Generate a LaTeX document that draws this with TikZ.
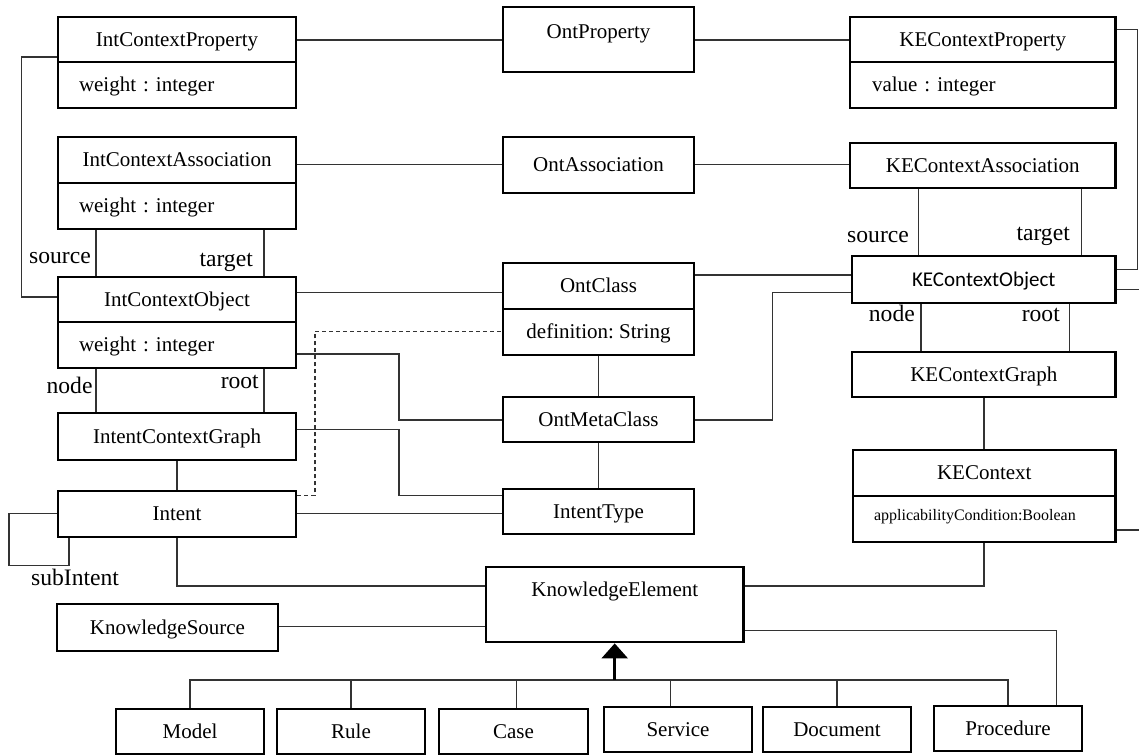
\documentclass[tikz,border=0pt]{standalone}
\usepackage{fontspec}
\setmainfont{Liberation Serif}
\newfontfamily\kesans{Carlito}
\usetikzlibrary{arrows.meta}
\frenchspacing
\begin{document}
\begin{tikzpicture}[x=1pt,y=-1pt,
  box/.style={draw=black, line width=2.8pt, inner sep=0pt,
    font=\fontsize{21}{25}\selectfont, text height=13.9pt, text depth=0pt},
  attr/.style={box, align=left, inner xsep=21pt, text width=#1},
  txt/.style={inner sep=0pt, font=\fontsize{21}{25}\selectfont,
    text height=13.9pt, text depth=0pt},
  conn/.style={draw=black!80, line width=1.3pt},
  role/.style={inner sep=0pt, font=\fontsize{23.6}{28}\selectfont, anchor=base east},
  gen/.style={draw=black, line width=2.6pt, -{Triangle[width=26pt,length=15pt]}}
]
\useasboundingbox (0,0) rectangle (1139,755);

% ---------- left column: intent side ----------
\node[box, minimum width=238pt, minimum height=45pt] (icp) at (177,39.5) {IntContextProperty};
\node[attr=196pt, minimum height=46pt] (icpa) at (177,85) {weight : integer};
\node[box, minimum width=238pt, minimum height=46pt] (ica) at (177,160) {IntContextAssociation};
\node[attr=196pt, minimum height=46pt] (icaa) at (177,206) {weight : integer};
\node[box, minimum width=238pt, minimum height=45pt] (ico) at (177,299.5) {IntContextObject};
\node[attr=196pt, minimum height=46pt] (icoa) at (177,345) {weight : integer};
\node[box, minimum width=238pt, minimum height=47pt] (icg) at (177,436.5) {IntentContextGraph};
\node[box, minimum width=238pt, minimum height=46pt] (intent) at (177,514) {Intent};
\node[box, minimum width=221pt, minimum height=47pt] (ks) at (167.5,627.5) {KnowledgeSource};

% ---------- middle column: ontology ----------
\node[box, minimum width=191pt, minimum height=65pt] (op) at (598.5,39.5) {};
\node[txt] (opt) at (598.5,32) {OntProperty};
\node[box, minimum width=191pt, minimum height=56pt] (oa) at (598.5,165) {OntAssociation};
\node[box, minimum width=191pt, minimum height=46pt] (oc) at (598.5,286) {OntClass};
\node[box, minimum width=191pt, minimum height=46pt] (oca) at (598.5,332) {definition: String};
\node[box, minimum width=191pt, minimum height=45pt] (omc) at (598.5,419.5) {OntMetaClass};
\node[box, minimum width=191pt, minimum height=45pt] (it) at (598.5,511.5) {IntentType};
\node[box, minimum width=257.5pt, minimum height=75pt] (ke) at (614.75,604.5) {};
\node[txt] (ket) at (614.75,590) {KnowledgeElement};

% ---------- right column: knowledge element context ----------
\node[box, minimum width=265.5pt, minimum height=45pt] (kcp) at (982.75,39.5) {KEContextProperty};
\node[attr=221.5pt, minimum height=46pt, inner xsep=22pt] (kcpa) at (982.75,85) {value : integer};
\node[box, minimum width=265.5pt, minimum height=45pt] (kca) at (982.75,165.5) {KEContextAssociation};
\node[box, minimum width=263.5pt, minimum height=47pt, font=\fontsize{21}{25}\kesans, text height=13.5pt] (kco) at (983.75,279.5) {KEContextObject};
\node[box, minimum width=263.5pt, minimum height=45pt] (kcg) at (983.75,374.5) {KEContextGraph};
\node[box, minimum width=262.5pt, minimum height=46pt] (kc) at (984.25,473) {KEContext};
\node[attr=220.5pt, minimum height=46pt, font=\fontsize{16}{19}\selectfont, text height=10.6pt, text depth=8pt] (kcb) at (984.25,519) {applicabilityCondition:Boolean};

% ---------- specialisations of KnowledgeElement ----------
\node[box, minimum width=148pt, minimum height=45pt] (model) at (190,731.5) {Model};
\node[box, minimum width=148pt, minimum height=45pt] (rule) at (351,731.5) {Rule};
\node[box, minimum width=149pt, minimum height=45pt] (case) at (513.5,731.5) {Case};
\node[box, minimum width=148pt, minimum height=45pt] (service) at (678,729.5) {Service};
\node[box, minimum width=148pt, minimum height=45pt] (document) at (837,729.5) {Document};
\node[box, minimum width=148pt, minimum height=45pt] (procedure) at (1008,728.5) {Procedure};

% ---------- associations across the three columns ----------
\draw[conn] (icp.east |- 0,40) -- (op.west |- 0,40);
\draw[conn] (op.east |- 0,40) -- (kcp.west |- 0,40);
\draw[conn] (ica.east |- 0,164.5) -- (oa.west |- 0,164.5);
\draw[conn] (oa.east |- 0,164.5) -- (kca.west |- 0,164.5);
\draw[conn] (ico.east |- 0,292.7) -- (oc.west |- 0,292.7);
\draw[conn] (oc.east |- 0,275) -- (kco.west |- 0,275);

% property to object, left side
\draw[conn] (icp.west |- 0,57) -- ++(-35,0) |- (ico.west |- 0,297);

% association source / target, intent side
\draw[conn] (icaa.south -| 96,0) -- (ico.north -| 96,0);
\draw[conn] (icaa.south -| 264,0) -- (ico.north -| 264,0);
\node[role] (lsrc1) at (91,263) {source};
\node[role] (ltgt1) at (253,266) {target};

% object to graph, intent side
\draw[conn] (icoa.south -| 96,0) -- (icg.north -| 96,0);
\draw[conn] (icoa.south -| 264,0) -- (icg.north -| 264,0);
\node[role] (lnode1) at (92.7,393) {node};
\node[role] (lroot1) at (259,388) {root};

\draw[conn] (icoa.east |- 0,354) -| (399,420) -- (omc.west |- 0,420);
\draw[conn] (icg.east |- 0,429.3) -| (399,495.7) -- (it.west |- 0,495.7);
\draw[conn] (icg.south) -- (intent.north);
\draw[conn, dash pattern=on 4pt off 3pt] (intent.east |- 0,495.7) -| (315,331.7) -- (oca.west |- 0,331.7);
\draw[conn] (intent.east |- 0,513.3) -- (it.west |- 0,513.3);

% subIntent self association
\draw[conn] (intent.west |- 0,513.3) -| (9,565.7) -| (intent.south -| 69,0);
\node[role, anchor=base west] (lsub) at (31,585) {subIntent};

\draw[conn] (intent.south) |- (ke.west |- 0,586);
\draw[conn] (ks.east |- 0,626.7) -- (ke.west |- 0,626.7);

% ontology chain
\draw[conn] (oca.south) -- (omc.north);
\draw[conn] (omc.south) -- (it.north);
\draw[conn] (omc.east |- 0,420) -| (772.7,292.7) -- (kco.west |- 0,292.7);

% right side
\draw[conn] (kcp.east |- 0,29.3) -| (1137.8,269.3) -- (kco.east |- 0,269.3);
\draw[conn] (kca.south -| 918.7,0) -- (kco.north -| 918.7,0);
\draw[conn] (kca.south -| 1081.7,0) -- (kco.north -| 1081.7,0);
\node[role] (lsrc2) at (909,242) {source};
\node[role] (ltgt2) at (1070,240) {target};
\draw[conn] (kco.south -| 921,0) -- (kcg.north -| 921,0);
\draw[conn] (kco.south -| 1069.3,0) -- (kcg.north -| 1069.3,0);
\node[role] (lnode2) at (915,321) {node};
\node[role] (lroot2) at (1060,321) {root};
\draw[conn] (kcg.south -| 984,0) -- (kc.north -| 984,0);
\coordinate (edgeA) at (1139,289.3);
\coordinate (edgeB) at (1139,530);
\draw[conn] (kco.east |- edgeA) -- (edgeA);
\draw[conn] (kcb.east |- edgeB) -- (edgeB);
\draw[conn] (kcb.south -| 984,0) |- (ke.east |- 0,586);
\draw[conn] (ke.east |- 0,630.7) -| (procedure.north -| 1056.7,0);

% generalisation tree
\coordinate (bus) at (614.7,680);
\draw[conn] (model.north) |- (procedure.north |- bus) -- (procedure.north);
\draw[conn] (rule.north) -- (rule.north |- bus);
\draw[conn] (case.north -| 516.8,0) -- (516.8,680);
\draw[conn] (service.north -| 670.8,0) -- (670.8,680);
\draw[conn] (document.north) -- (document.north |- bus);
\draw[gen] (bus) -- (ke.south -| bus);
\end{tikzpicture}
\end{document}
